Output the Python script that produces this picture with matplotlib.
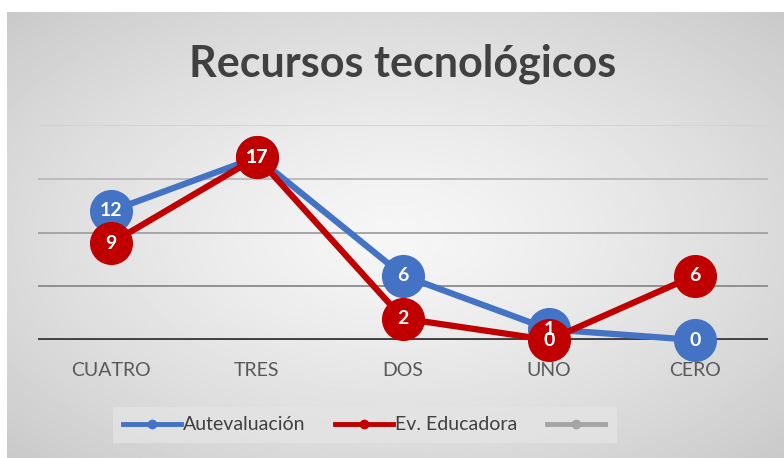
import numpy as np
import matplotlib.pyplot as plt
from matplotlib.lines import Line2D

categories = ['CUATRO', 'TRES', 'DOS', 'UNO', 'CERO']
autoeval = [12, 17, 6, 1, 0]
educadora = [9, 17, 2, 0, 6]
series_names = ['Autevaluación', 'Ev. Educadora', '']

blue = '#4472C4'
red = '#C00000'
gray = '#A5A5A5'

plt.rcParams['font.family'] = ['Lato', 'DejaVu Sans']

W, H = 784, 458
fig = plt.figure(figsize=(W / 100, H / 100), dpi=100, facecolor='white')

# radial gradient background (chart area)
bg = fig.add_axes([7 / W, 0, 777 / W, 446 / H])
yy, xx = np.mgrid[-1:1:300j, -1:1:500j]
r = np.sqrt(xx ** 2 + yy ** 2) / np.sqrt(2)
light, dark = 0.965, 0.79
img = light - (light - dark) * r ** 1.3
bg.imshow(img, cmap='gray', vmin=0, vmax=1, aspect='auto', extent=(0, 1, 0, 1))
bg.set_axis_off()

ax = fig.add_axes([38 / W, (H - 340) / H, 730 / W, 215 / H])
ax.patch.set_alpha(0)
x = np.arange(len(categories))
ax.set_xlim(-0.5, len(categories) - 0.5)
ax.set_ylim(0, 20)

# gridlines
for v, c in zip([5, 10, 15, 20], ['#8a8a8a', '#a0a0a0', '#b8b8b8', '#d2d2d2']):
    ax.axhline(v, color=c, lw=1.3, zorder=1)
ax.axhline(0, color='#404040', lw=2.8, zorder=1)

for s in ax.spines.values():
    s.set_visible(False)
ax.set_yticks([])
ax.set_xticks(x)
ax.set_xticklabels(categories, fontsize=14, color='#595959')
ax.tick_params(axis='x', length=0, pad=16)

ax.plot(x, autoeval, color=blue, lw=4.5, marker='o', markersize=30,
        zorder=3, clip_on=False, solid_capstyle='round')
ax.plot(x, educadora, color=red, lw=4.5, marker='o', markersize=30,
        zorder=4, clip_on=False, solid_capstyle='round')

for xi, v in zip(x, autoeval):
    ax.text(xi, v, str(v), color='white', fontsize=14, fontweight='bold',
            ha='center', va='center', zorder=6)
for xi, v in zip(x, educadora):
    ax.text(xi, v, str(v), color='white', fontsize=14, fontweight='bold',
            ha='center', va='center', zorder=6)

fig.text(403 / W, (H - 64) / H, 'Recursos tecnológicos', fontsize=31,
         fontweight='bold', color='#404040', ha='center', va='center')

handles = [Line2D([], [], color=c, lw=3.5, marker='o', markersize=6)
           for c in [blue, red, gray]]
leg = fig.legend(handles, series_names, loc='center',
                 bbox_to_anchor=(365 / W, (H - 425) / H), ncol=3,
                 fontsize=14, frameon=True, fancybox=False,
                 handlelength=3, handletextpad=0.1, columnspacing=1.5,
                 borderpad=0.5)
leg.get_frame().set_facecolor('#e4e4e4')
leg.get_frame().set_edgecolor('none')
for t in leg.get_texts():
    t.set_color('#404040')

fig.savefig('out.png', dpi=100, facecolor='white')
